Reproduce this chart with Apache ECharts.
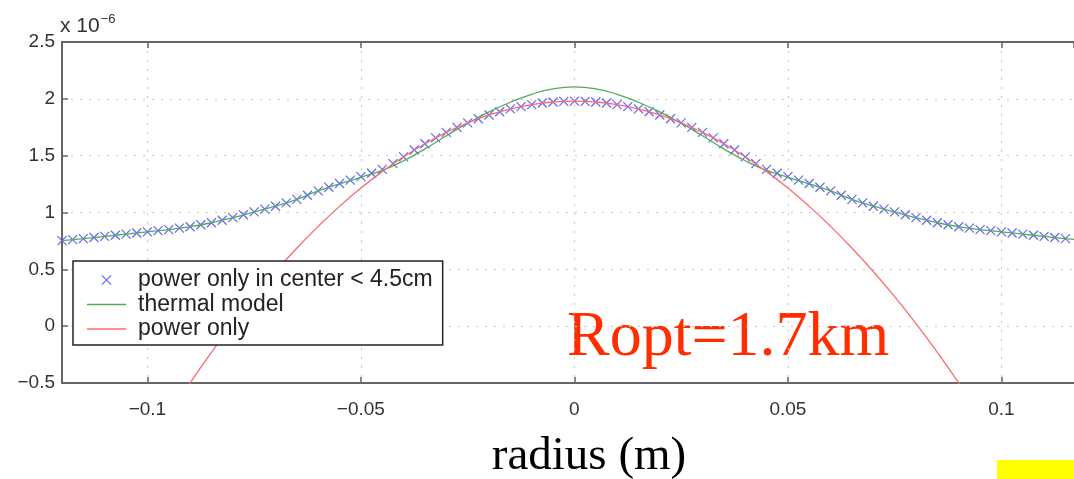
<!DOCTYPE html>
<html><head><meta charset="utf-8">
<script src="https://cdn.jsdelivr.net/npm/echarts@6/dist/echarts.min.js"></script>
<style>html,body{margin:0;padding:0;background:#fff}#c{width:1074px;height:479px}</style>
</head><body><div id="c"></div>
<script>
// radius (m) for the "power only in center < 4.5cm" markers
const radiusMarkers = [-0.12,-0.1175,-0.115,-0.1125,-0.11,-0.1075,-0.105,-0.1025,-0.1,-0.0975,-0.095,-0.0925,-0.09,-0.0875,-0.085,-0.0825,-0.08,-0.0775,-0.075,-0.0725,-0.07,-0.0675,-0.065,-0.0625,-0.06,-0.0575,-0.055,-0.0525,-0.05,-0.0475,-0.045,-0.0425,-0.04,-0.0375,-0.035,-0.0325,-0.03,-0.0275,-0.025,-0.0225,-0.02,-0.0175,-0.015,-0.0125,-0.01,-0.0075,-0.005,-0.0025,0,
  0.0025,0.005,0.0075,0.01,0.0125,0.015,0.0175,0.02,0.0225,0.025,0.0275,0.03,0.0325,0.035,0.0375,0.04,0.0425,0.045,0.0475,0.05,0.0525,0.055,0.0575,0.06,0.0625,0.065,0.0675,0.07,0.0725,0.075,0.0775,0.08,0.0825,0.085,0.0875,0.09,0.0925,0.095,0.0975,0.1,0.1025,0.105,0.1075,0.11,0.1125,0.115,0.1175,0.12];
// values in units of 1e-6
const centerPowerValues = [0.752,0.761,0.770,0.780,0.790,0.800,0.810,0.820,0.830,0.840,0.850,0.862,0.875,0.892,0.910,0.932,0.955,0.980,1.005,1.030,1.055,1.085,1.115,1.152,1.190,1.222,1.255,1.285,1.315,1.345,1.380,1.430,1.490,1.550,1.605,1.657,1.705,1.749,1.789,1.825,1.858,1.886,1.911,1.932,1.949,1.963,1.972,1.978,1.980,
  1.978,1.972,1.963,1.949,1.932,1.911,1.886,1.858,1.825,1.789,1.749,1.705,1.657,1.605,1.550,1.490,1.430,1.380,1.345,1.315,1.285,1.255,1.222,1.190,1.152,1.115,1.085,1.055,1.030,1.005,0.980,0.955,0.932,0.910,0.892,0.875,0.862,0.850,0.840,0.830,0.820,0.810,0.800,0.790,0.780,0.770,0.761,0.752];

const radiusThermal = [-0.12,-0.115,-0.11,-0.105,-0.1,-0.095,-0.09,-0.085,-0.08,-0.075,-0.07,-0.065,-0.06,-0.055,-0.05,-0.045,-0.04,-0.035,-0.03,-0.025,-0.02,-0.015,-0.01,-0.005,0,
  0.005,0.01,0.015,0.02,0.025,0.03,0.035,0.04,0.045,0.05,0.055,0.06,0.065,0.07,0.075,0.08,0.085,0.09,0.095,0.1,0.105,0.11,0.115,0.12];
const thermalValues = [0.752,0.770,0.790,0.810,0.830,0.850,0.875,0.910,0.955,1.005,1.055,1.115,1.190,1.252,1.310,1.370,1.455,1.560,1.675,1.785,1.885,1.970,2.040,2.088,2.105,
  2.088,2.040,1.970,1.885,1.785,1.675,1.560,1.455,1.370,1.310,1.252,1.190,1.115,1.055,1.005,0.955,0.910,0.875,0.850,0.830,0.810,0.790,0.770,0.752];

const radiusPowerOnly = [-0.095,-0.09,-0.085,-0.08,-0.075,-0.07,-0.065,-0.06,-0.055,-0.05,-0.045,-0.04,-0.035,-0.03,-0.025,-0.02,-0.015,-0.01,-0.005,0,
  0.005,0.01,0.015,0.02,0.025,0.03,0.035,0.04,0.045,0.05,0.055,0.06,0.065,0.07,0.075,0.08,0.085,0.09,0.095];
const powerOnlyValues = [-0.782,-0.499,-0.231,0.022,0.259,0.481,0.687,0.878,1.054,1.215,1.360,1.490,1.605,1.705,1.789,1.858,1.911,1.949,1.972,1.980,
  1.972,1.949,1.911,1.858,1.789,1.705,1.605,1.490,1.360,1.215,1.054,0.878,0.687,0.481,0.259,0.022,-0.231,-0.499,-0.782];

const seriesNames = ['power only in center < 4.5cm', 'thermal model', 'power only'];
const xTicks = [-0.1, -0.05, 0, 0.05, 0.1];
const yTicks = [-0.5, 0, 0.5, 1, 1.5, 2, 2.5];
const xRange = [-0.12, 0.117];

const zip = (xs, ys) => xs.map((x, i) => [x, ys[i]]);
const minus = v => String(v).replace('-', '\u2212');
const crossPath = 'path://M0,0L10,10M10,0L0,10';
const chart = echarts.init(document.getElementById('c'), null, {renderer: 'canvas'});
const axisFont = 'Liberation Sans, Arial, sans-serif';
const gridLine = {show: true, lineStyle: {color: '#c4c4c4', type: [2, 7], width: 1}};
const axisLineStyle = {show: true, onZero: false, lineStyle: {color: '#666', width: 2}};
const tickStyle = {show: true, inside: true, length: 6, lineStyle: {color: '#666', width: 1.5}};

chart.setOption({
  animation: false,
  backgroundColor: '#ffffff',
  grid: {left: 62, right: 0, top: 42, bottom: 96, show: false},
  xAxis: [{
    type: 'value', min: xRange[0], max: xRange[1], minInterval: 0.05, maxInterval: 0.05,
    axisLine: axisLineStyle, axisTick: tickStyle,
    axisLabel: {color: '#333', fontSize: 19, fontFamily: axisFont, margin: 17,
      showMinLabel: false, showMaxLabel: false,
      formatter: v => xTicks.some(t => Math.abs(t - v) < 1e-9) ? minus(v) : ''},
    splitLine: gridLine
  }, {
    type: 'value', position: 'top', min: xRange[0], max: xRange[1], minInterval: 0.05, maxInterval: 0.05,
    axisLine: axisLineStyle, axisTick: tickStyle, axisLabel: {show: false}, splitLine: {show: false}
  }],
  yAxis: {
    type: 'value', min: yTicks[0], max: yTicks[yTicks.length - 1], interval: 0.5,
    axisLine: axisLineStyle, axisTick: tickStyle,
    axisLabel: {color: '#333', fontSize: 19, fontFamily: axisFont, margin: 7, formatter: v => minus(v)},
    splitLine: gridLine
  },
  legend: {
    left: 73, top: 261, orient: 'vertical', itemWidth: 39, itemHeight: 14, itemGap: 1.5, z: 10,
    padding: [7.5, 10, 4.5, 14], borderColor: '#222', borderWidth: 1.5, backgroundColor: '#fff',
    textStyle: {fontSize: 23, lineHeight: 20, color: '#222', fontFamily: axisFont, padding: [0, 0, 0, 7]},
    data: [
      {name: seriesNames[0], icon: 'path://M-0.25,-0.25M1.25,1.25M0,0L1,1M1,0L0,1', itemStyle: {color: 'none', borderColor: '#4a4aff', borderWidth: 1.2}},
      {name: seriesNames[1], icon: 'path://M0,0L39,0L39,1.3L0,1.3Z', itemStyle: {color: '#4fae4f', borderWidth: 0}},
      {name: seriesNames[2], icon: 'path://M0,0L39,0L39,1.3L0,1.3Z', itemStyle: {color: '#ff6a6a', borderWidth: 0}}
    ]
  },
  series: [
    {name: seriesNames[0], type: 'scatter', data: zip(radiusMarkers, centerPowerValues), symbol: crossPath, symbolSize: 9,
      itemStyle: {color: 'none', borderColor: '#4a4aff', borderWidth: 1.2, opacity: 0.85}, z: 1},
    {name: seriesNames[1], type: 'line', data: zip(radiusThermal, thermalValues), smooth: true, symbol: 'none',
      lineStyle: {color: '#4fae4f', width: 1.3}, itemStyle: {color: '#4fae4f'}, z: 2},
    {name: seriesNames[2], type: 'line', data: zip(radiusPowerOnly, powerOnlyValues), smooth: true, symbol: 'none',
      lineStyle: {color: '#ff6a6a', width: 1.3}, itemStyle: {color: '#ff6a6a'}, z: 3}
  ],
  graphic: [
    {type: 'text', left: 60, top: 13, style: {text: '{a|x 10}{b|\u22126}', rich: {a: {fontSize: 21, fontFamily: axisFont, fill: '#333'}, b: {fontSize: 13, fontFamily: axisFont, fill: '#333', padding: [0, 0, 13, 1]}}}},
    {type: 'text', x: 567, y: 338, style: {text: 'Ropt=1.7km', font: '64px "Liberation Serif", "Times New Roman", serif', fill: '#ff2d00', verticalAlign: 'middle'}},
    {type: 'text', x: 589, y: 457, style: {text: 'radius (m)', font: '47px "Liberation Serif", "Times New Roman", serif', fill: '#000', align: 'center', verticalAlign: 'middle'}},
    {type: 'rect', shape: {x: 997, y: 460, width: 77, height: 19}, style: {fill: '#ffff00'}}
  ]
});
</script></body></html>
